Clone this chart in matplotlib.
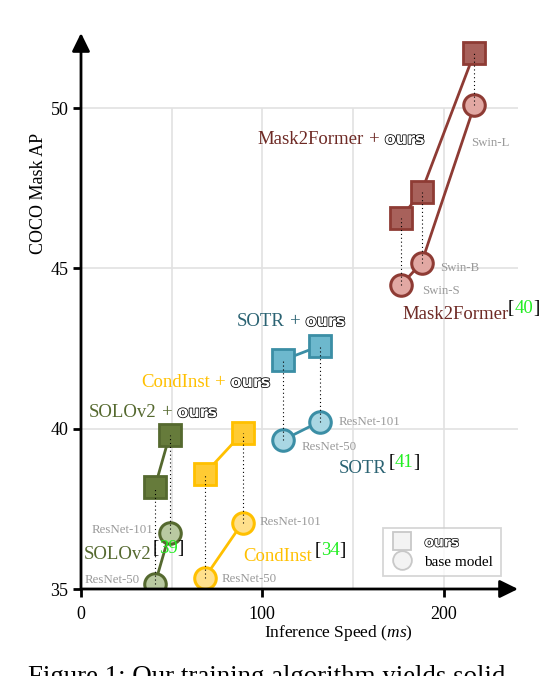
import matplotlib
matplotlib.use('Agg')
import matplotlib.pyplot as plt
from matplotlib.lines import Line2D
from matplotlib.transforms import Affine2D
import matplotlib.patheffects as pe

plt.rcParams['font.family'] = ['Liberation Serif', 'DejaVu Serif']
plt.rcParams['mathtext.fontset'] = 'custom'
plt.rcParams['mathtext.it'] = 'Liberation Serif:italic'
plt.rcParams['mathtext.rm'] = 'Liberation Serif'

# ---------------- data ----------------
solo_speed = [40.8, 48.9]
solo_base = [35.16, 36.74]
solo_ours = [38.19, 39.80]
solo_backbones = ['ResNet-50', 'ResNet-101']

cond_speed = [68.2, 89.1]
cond_base = [35.35, 37.07]
cond_ours = [38.59, 39.87]
cond_backbones = ['ResNet-50', 'ResNet-101']

sotr_speed = [111.5, 131.7]
sotr_base = [39.65, 40.22]
sotr_ours = [42.14, 42.58]
sotr_backbones = ['ResNet-50', 'ResNet-101']

m2f_speed = [176.5, 187.8, 217.0]
m2f_base = [44.48, 45.17, 50.09]
m2f_ours = [46.58, 47.39, 51.73]
m2f_backbones = ['Swin-S', 'Swin-B', 'Swin-L']

x_ticks = [0, 100, 200]
y_ticks = [35, 40, 45, 50]

# ---------------- styles ----------------
styles = {
    'SOLOv2':      dict(edge='#55692F', sq='#667B3B', ci='#B9C9A1', txt='#55692F'),
    'CondInst':    dict(edge='#FFC000', sq='#FFCB33', ci='#FFE08C', txt='#FFC000'),
    'SOTR':        dict(edge='#3B8EA5', sq='#6DB8CD', ci='#A9D7E3', txt='#2B6373'),
    'Mask2Former': dict(edge='#8E3B34', sq='#A8615B', ci='#E2A8A3', txt='#6E2A25'),
}
GRAY = '#9a9a9a'
GREEN = '#22EE22'

fig = plt.figure(figsize=(5.44, 6.76), dpi=100)
ax = fig.add_axes([81/544, 87/676, 437/544, 556/676])
ax.set_xlim(0, 241)
ax.set_ylim(35, 52.34)
for s in ax.spines.values():
    s.set_visible(False)

# grid (restricted to data region like the original)
ax.hlines([40, 45, 50], 0, 241, colors='#e2e2e2', lw=1.2, zorder=0)
ax.vlines([50, 100, 150, 200], 35, 50, colors='#e2e2e2', lw=1.2, zorder=0)

# axes with arrows
arrow = dict(arrowstyle='-|>,head_length=0.55,head_width=0.27', lw=2.0,
             color='black', mutation_scale=20, shrinkA=0, shrinkB=0)
ax.annotate('', xy=(1, 0), xytext=(0, 0), xycoords='axes fraction',
            textcoords='axes fraction', arrowprops=arrow, zorder=5)
ax.annotate('', xy=(0, 1), xytext=(0, 0), xycoords='axes fraction',
            textcoords='axes fraction', arrowprops=arrow, zorder=5)

ax.set_xticks(x_ticks)
ax.set_yticks(y_ticks)
ax.tick_params(direction='out', length=6, width=2.0, labelsize=13, color='black')
ax.tick_params(axis='x', pad=6)
ax.tick_params(axis='y', pad=3)

groups = [
    ('SOLOv2', solo_speed, solo_base, solo_ours),
    ('CondInst', cond_speed, cond_base, cond_ours),
    ('SOTR', sotr_speed, sotr_base, sotr_ours),
    ('Mask2Former', m2f_speed, m2f_base, m2f_ours),
]
for name, sp, base, ours in groups:
    st = styles[name]
    ax.plot(sp, ours, '-', color=st['edge'], lw=2.0, zorder=2)
    ax.plot(sp, base, '-', color=st['edge'], lw=2.0, zorder=2)
    ax.plot(sp, ours, 's', ls='none', ms=15.5, mfc=st['sq'], mec=st['edge'],
            mew=2.0, zorder=3)
    ax.plot(sp, base, 'o', ls='none', ms=15.5, mfc=st['ci'], mec=st['edge'],
            mew=2.2, zorder=3)
    for xv, b, o in zip(sp, base, ours):
        ax.plot([xv, xv], [b, o], ls=(0, (1, 2.5)), color='black', lw=0.8, zorder=4)

# backbone labels
small = dict(color=GRAY, fontsize=9.3, va='center')
lab_pos = {
    'SOLOv2': [(32.5, 35.28, 'right'), (39.7, 36.84, 'right')],
    'CondInst': [(77.7, 35.31, 'left'), (98.6, 37.09, 'left')],
    'SOTR': [(121.8, 39.43, 'left'), (142.1, 40.21, 'left')],
    'Mask2Former': [(188.4, 44.29, 'left'), (198.3, 45.01, 'left'), (215.4, 48.91, 'left')],
}
bb = {'SOLOv2': solo_backbones, 'CondInst': cond_backbones,
      'SOTR': sotr_backbones, 'Mask2Former': m2f_backbones}
for name, plist in lab_pos.items():
    for (xv, yv, ha), lbl in zip(plist, bb[name]):
        ax.text(xv, yv, lbl, ha=ha, zorder=6, **small)

renderer = fig.canvas.get_renderer()
outline = [pe.Stroke(linewidth=1.1, foreground='black'), pe.Normal()]


def chain_text(x, y, pieces, size=13.5):
    dx = 0.0
    for s, kw, gap, dy in pieces:
        dx += gap
        tr = ax.transData + Affine2D().translate(dx, dy)
        kw = dict(kw)
        fs = kw.pop('size', size)
        t = ax.text(x, y, s, transform=tr, va='baseline', ha='left',
                    fontsize=fs, zorder=7, **kw)
        ex = t.get_window_extent(renderer)
        dx += ex.width


def ours_piece(gap):
    return ('ours', dict(family='DejaVu Sans', weight='bold', color='white',
                         path_effects=outline, size=11.5), gap, 0)


def plus_label(x, y, name):
    c = styles[name]['txt']
    chain_text(x, y, [(name, dict(color=c), 0, 0),
                      ('+', dict(color=c), 5, 0),
                      ours_piece(5)])


def cite_label(x, y, name, ref, gap):
    c = styles[name]['txt']
    chain_text(x, y, [(name, dict(color=c), 0, 0),
                      ('[', dict(color='black'), gap, 6),
                      (ref, dict(color=GREEN), 0, 6),
                      (']', dict(color='black'), 0, 6)])


plus_label(97.5, 48.88, 'Mask2Former')
cite_label(177.4, 43.42, 'Mask2Former', '40', -1)
plus_label(86.0, 43.20, 'SOTR')
cite_label(142.1, 38.62, 'SOTR', '41', 2)
plus_label(33.1, 41.30, 'CondInst')
cite_label(89.3, 35.87, 'CondInst', '34', 3)
plus_label(4.4, 40.36, 'SOLOv2')
cite_label(1.65, 35.94, 'SOLOv2', '39', 1)

# legend
handles = [
    Line2D([], [], marker='s', ls='none', ms=13, mfc='#f3f3f3', mec='#c8c8c8', mew=1.3),
    Line2D([], [], marker='o', ls='none', ms=13.5, mfc='#f3f3f3', mec='#c8c8c8', mew=1.3),
]
leg = ax.legend(handles, ['ours', 'base model'], loc='lower right',
                bbox_to_anchor=(0.961, 0.023), borderaxespad=0, fontsize=11,
                frameon=True, fancybox=False, edgecolor='#cccccc',
                handletextpad=0.8, borderpad=0.5, labelspacing=0.35,
                handlelength=1.4)
leg.get_frame().set_linewidth(1.3)
t0 = leg.get_texts()[0]
t0.set_fontfamily('DejaVu Sans')
t0.set_fontweight('bold')
t0.set_color('white')
t0.set_fontsize(10)
t0.set_path_effects([pe.Stroke(linewidth=1.0, foreground='black'), pe.Normal()])

# axis labels
fig.text(338/544, 1 - 633/676, r'Inference Speed ($\mathit{ms}$)', ha='center',
         va='center', fontsize=12.5)
fig.text(38.5/544, 1 - 193/676, 'COCO Mask AP', ha='center', va='center',
         rotation=90, fontsize=13)

# caption fragment (cropped at the bottom, as in the source page)
fig.text(28/544, -8/676, 'Figure 1: Our training algorithm yields solid',
         ha='left', va='baseline', fontsize=19.4)

fig.savefig('out.png', dpi=100)
